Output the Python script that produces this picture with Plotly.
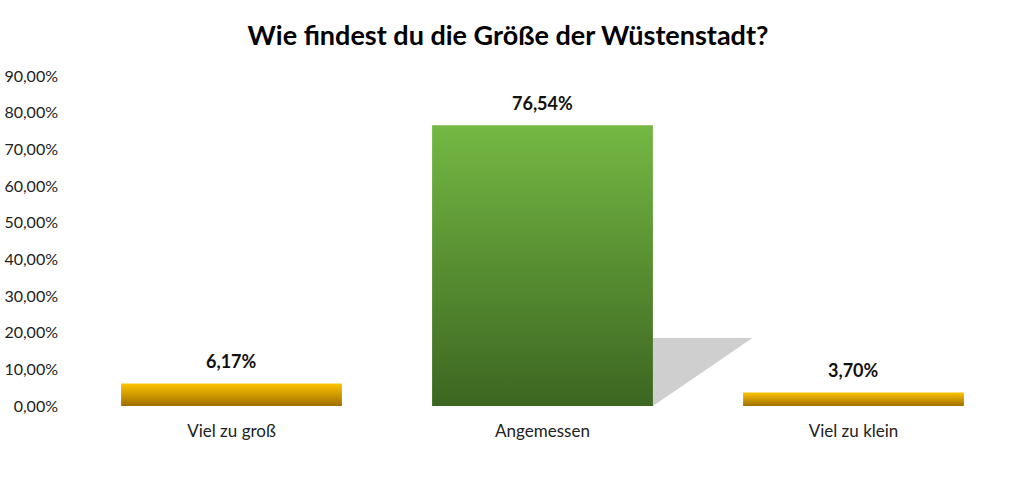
import plotly.graph_objects as go

categories = ["Viel zu groß", "Angemessen", "Viel zu klein"]
values = [6.17, 76.54, 3.70]
label_texts = ["6,17%", "76,54%", "3,70%"]
tick_values = [0, 10, 20, 30, 40, 50, 60, 70, 80, 90]
tick_labels = ["0,00%", "10,00%", "20,00%", "30,00%", "40,00%",
               "50,00%", "60,00%", "70,00%", "80,00%", "90,00%"]

top_colors = ["#FFC400", "#74B843", "#FFC400"]
bottom_colors = ["#9E6F00", "#3C6621", "#9E6F00"]

FONT = "Lato"
half_w = 0.355

fig = go.Figure()

# perspective shadow behind the middle bar
mid = 1
sh_h = values[mid] * 0.242
sh_dx = 0.32
fig.add_shape(
    type="path",
    path=(f"M {mid - half_w},0 L {mid - half_w + sh_dx},{sh_h} "
          f"L {mid + half_w + sh_dx},{sh_h} L {mid + half_w},0 Z"),
    xref="x", yref="y", fillcolor="#CFCFCF", line=dict(width=0),
    layer="below",
)

for i, (v, c_top, c_bot) in enumerate(zip(values, top_colors, bottom_colors)):
    x0, x1 = i - half_w, i + half_w
    fig.add_trace(go.Scatter(
        x=[x0, x1, x1, x0, x0], y=[0, 0, v, v, 0],
        mode="lines", fill="toself", line=dict(width=0),
        fillgradient=dict(type="vertical", colorscale=[[0, c_bot], [1, c_top]]),
        hoverinfo="skip", showlegend=False,
    ))

for i, (v, t) in enumerate(zip(values, label_texts)):
    fig.add_annotation(
        x=i, y=v, text=f"<b>{t}</b>", showarrow=False,
        xanchor="center", yanchor="bottom", yshift=9,
        font=dict(family=FONT, size=18, color="#111111"),
    )

fig.update_layout(
    width=1016, height=481,
    margin=dict(l=76, r=7, t=76, b=75),
    paper_bgcolor="white", plot_bgcolor="white",
    title=dict(text="<b>Wie findest du die Größe der Wüstenstadt?</b>",
               x=0.5, xanchor="center", xref="container",
               y=0.927, yanchor="middle", yref="container",
               font=dict(family=FONT, size=27, color="#000000")),
    xaxis=dict(range=[-0.5, 2.5], tickvals=list(range(len(categories))),
               ticktext=categories, showgrid=False, zeroline=False,
               showline=False, ticks="", ticklabelstandoff=13,
               automargin=False,
               tickfont=dict(family=FONT, size=17, color="#222222")),
    yaxis=dict(range=[0, 90], tickvals=tick_values, ticktext=tick_labels,
               showgrid=False, zeroline=False, automargin=False,
               showline=False, ticks="", ticklabelstandoff=17,
               tickfont=dict(family=FONT, size=16, color="#222222")),
    showlegend=False,
)

fig.write_html("out.html", config={"displayModeBar": False},
               post_script="document.body.style.margin='0';")
